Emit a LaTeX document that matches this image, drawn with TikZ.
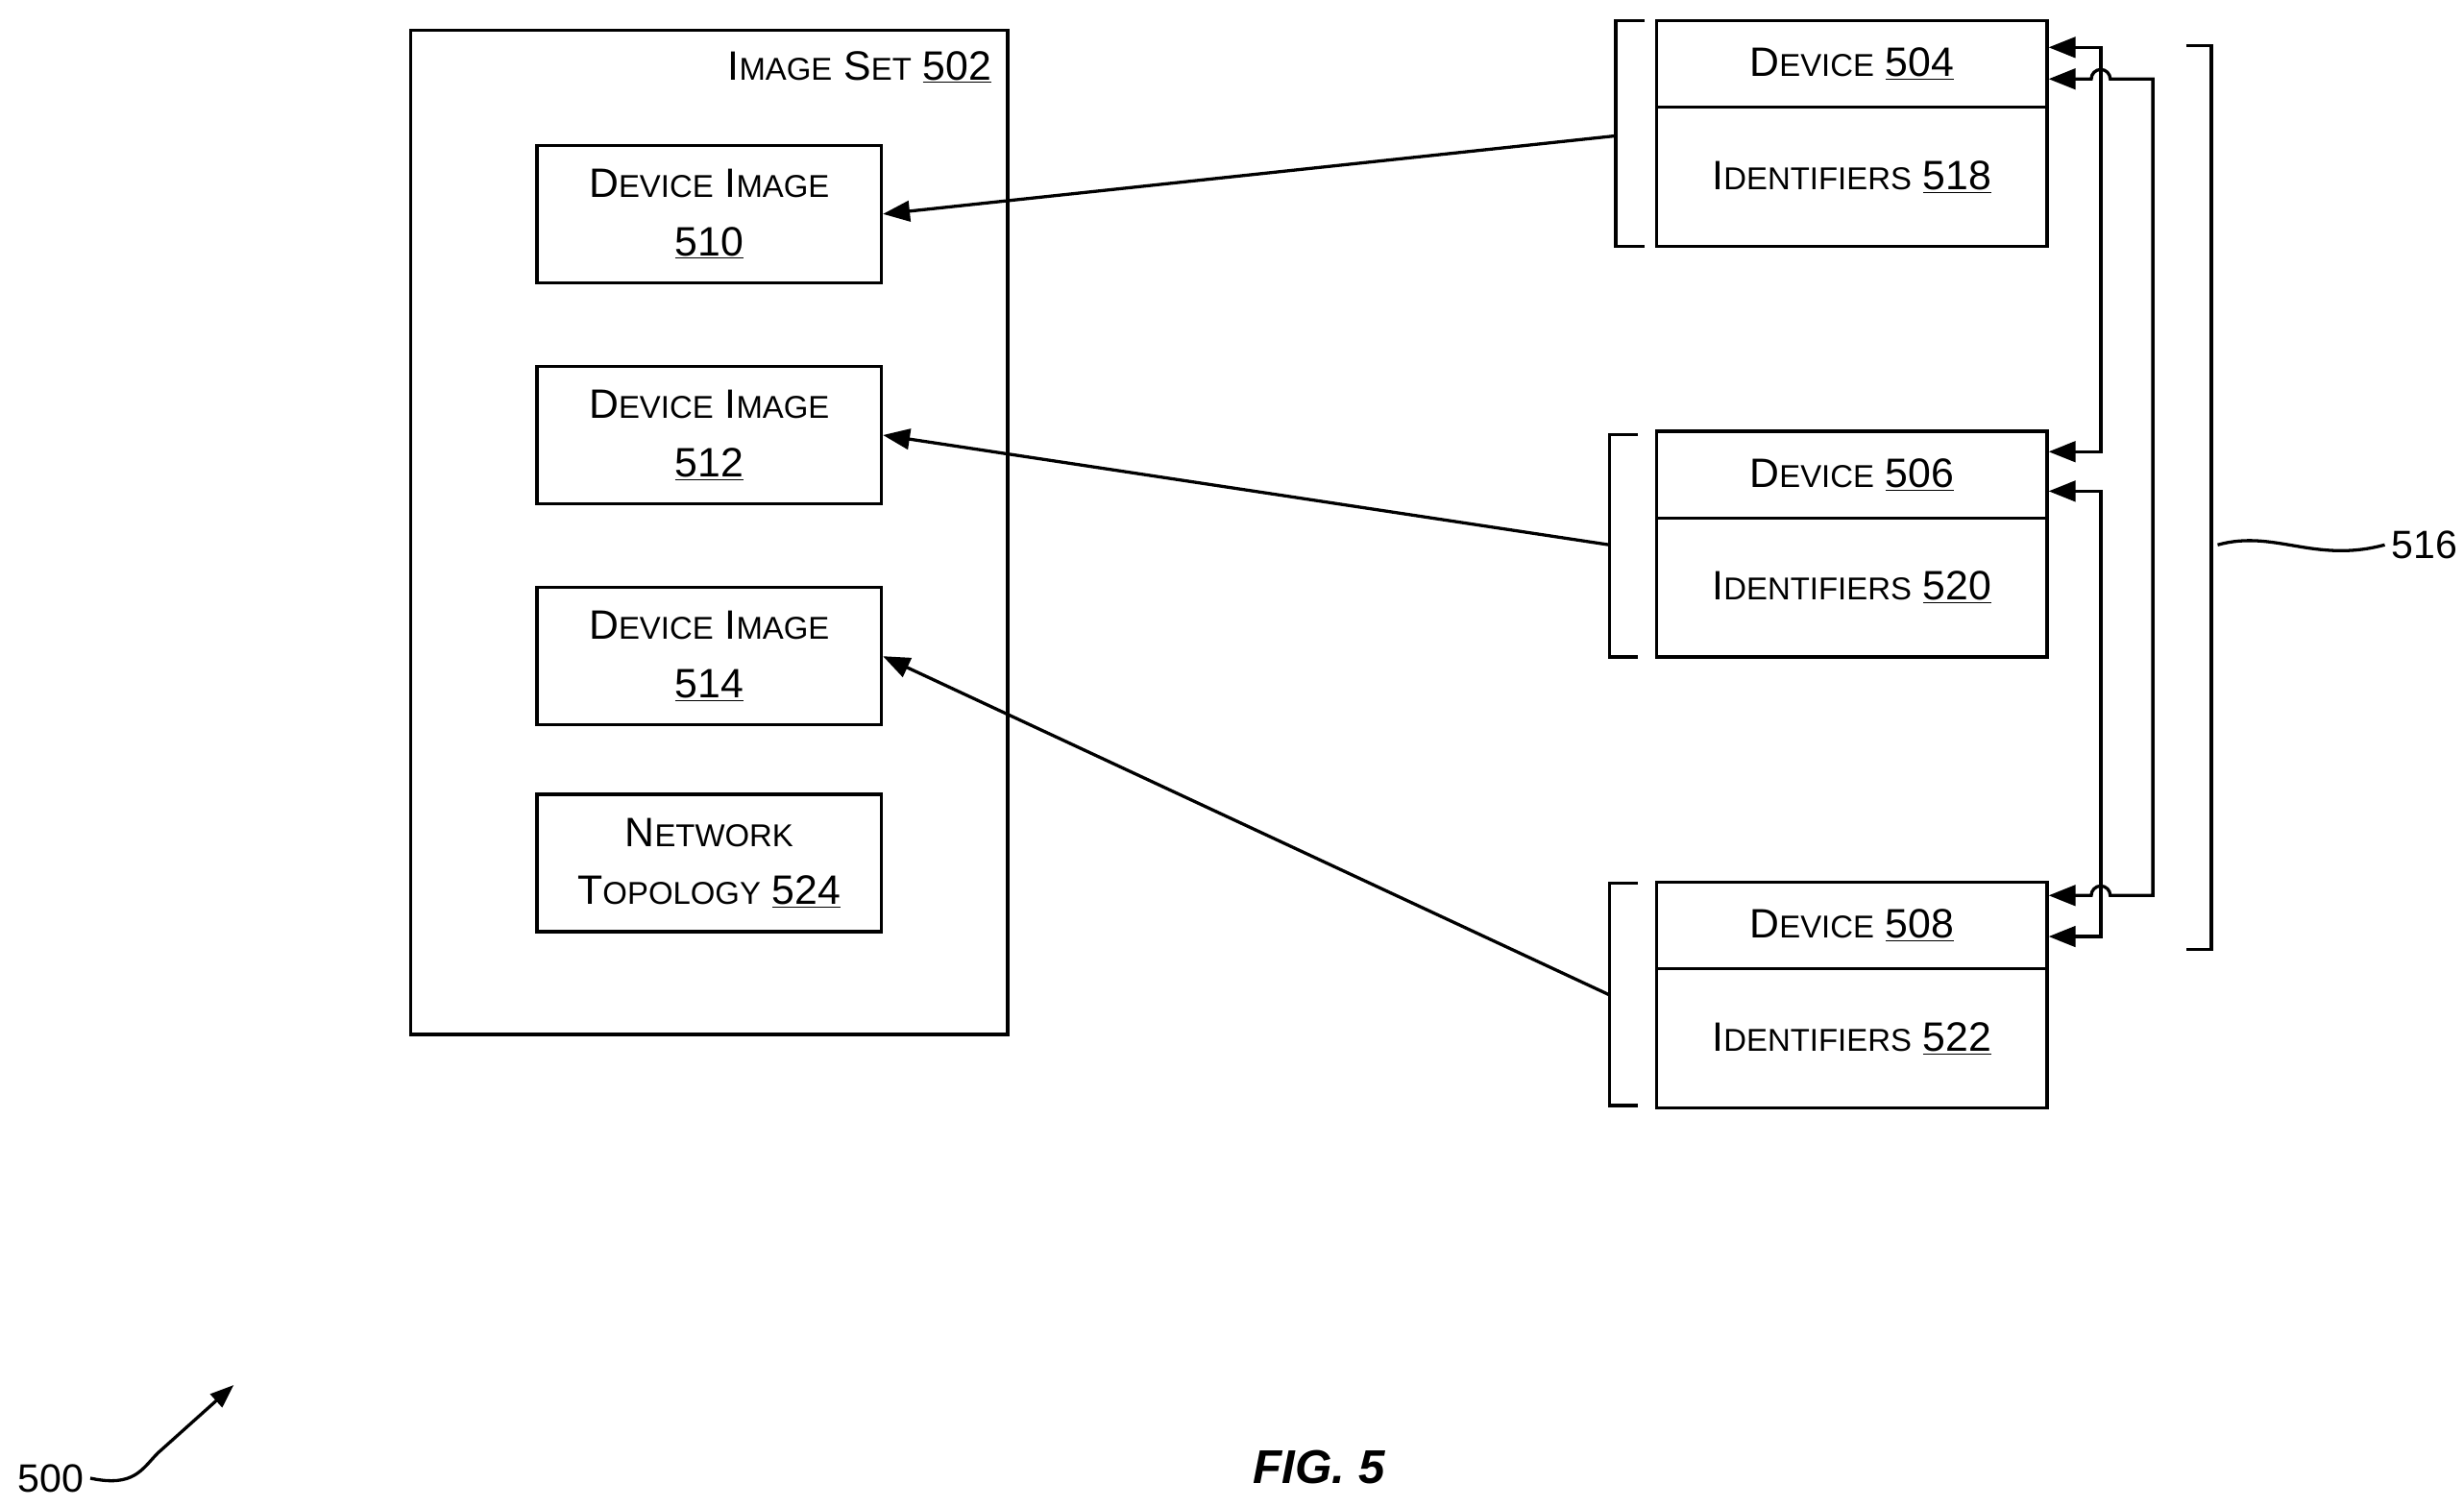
\documentclass[tikz,border=0pt]{standalone}
\usepackage{fontspec}
\setmainfont{Liberation Sans}
\usetikzlibrary{arrows.meta}
\usetikzlibrary{positioning}
\newcommand{\bigc}[1]{{\fontsize{26}{36}\selectfont #1}}
\newcommand{\smc}[1]{{\fontsize{20}{36}\selectfont #1}}
\newcommand{\refn}[1]{\bigc{\underline{#1}}}
\begin{document}
\begin{tikzpicture}[x=1pt,y=-1pt,line width=2pt]
			\tikzset{box/.style={draw,rectangle,inner sep=0pt,align=center,font=\fontsize{26}{37}\selectfont}}
			\tikzset{img/.style={box,minimum width=218pt,minimum height=87pt}}
			\tikzset{head/.style={box,minimum width=247pt,minimum height=55pt}}
			\tikzset{ids/.style={box,minimum width=247pt,minimum height=88pt}}
			\tikzset{tip/.style={Triangle[length=17pt,width=13pt]}}
			\tikzset{link/.style={-{Triangle[length=17pt,width=13pt]}}}
			\tikzset{both/.style={{Triangle[length=17pt,width=13pt]}-{Triangle[length=17pt,width=13pt]}}}
			\useasboundingbox (0,0) rectangle (1560,954);
			% Place Nodes
			\node[box,minimum width=378pt,minimum height=636pt] (set) at (449,337) {};
			\node[anchor=north east,font=\fontsize{26}{36}\selectfont] (setlbl) at (632,28) {\bigc{I}\smc{MAGE} \bigc{S}\smc{ET} \refn{502}};
			\node[img] (img510) at (449,135.5) {\bigc{D}\smc{EVICE} \bigc{I}\smc{MAGE}\\\refn{510}};
			\node[img] (img512) at (449,275.5) {\bigc{D}\smc{EVICE} \bigc{I}\smc{MAGE}\\\refn{512}};
			\node[img] (img514) at (449,415.5) {\bigc{D}\smc{EVICE} \bigc{I}\smc{MAGE}\\\refn{514}};
			\node[img] (top524) at (449,546.5) {\bigc{N}\smc{ETWORK}\\\bigc{T}\smc{OPOLOGY} \refn{524}};
			\node[head] (dev504) at (1172.5,40.5) {\bigc{D}\smc{EVICE} \refn{504}};
			\node[ids] (id518) [below=-2pt of dev504] {\bigc{I}\smc{DENTIFIERS} \refn{518}};
			\node[head] (dev506) at (1172.5,300.5) {\bigc{D}\smc{EVICE} \refn{506}};
			\node[ids] (id520) [below=-2pt of dev506] {\bigc{I}\smc{DENTIFIERS} \refn{520}};
			\node[head] (dev508) at (1172.5,586) {\bigc{D}\smc{EVICE} \refn{508}};
			\node[ids] (id522) [below=-2pt of dev508] {\bigc{I}\smc{DENTIFIERS} \refn{522}};
			% Brackets
			\draw (1041,13) -- (1023,13) -- (1023,156) -- (1041,156);
			\coordinate (b504) at (1023,86);
			\draw (1037,275) -- (1019,275) -- (1019,416) -- (1037,416);
			\coordinate (b506) at (1019,345);
			\draw (1037,559) -- (1019,559) -- (1019,700) -- (1037,700);
			\coordinate (b508) at (1019,630);
			\draw (1384,29) -- (1400,29) -- (1400,601) -- (1384,601);
			% Image links
			\draw[link] (b504) -- (img510.east);
			\draw[link] (b506) -- (img512.east);
			\draw[link] (b508) -- (img514.east);
			% Device links
			\draw[both] (dev504.east |- 0,30) -- (1330,30) -- (1330,286) -- (dev506.east |- 0,286);
			\draw[both] (dev506.east |- 0,311) -- (1330,311) -- (1330,593) -- (dev508.east |- 0,593);
			\draw[both]
				(dev504.east |- 0,50) -- (1324,50) arc[start angle=180,end angle=0,radius=6pt]
				-- (1363,50) -- (1363,567) -- (1336,567) arc[start angle=0,end angle=180,radius=6pt]
				-- (dev508.east |- 0,567);
			% Labels
			\node (n516) at (1535,345) {\fontsize{25}{30}\selectfont 516};
			\draw (1404,345) .. controls (1440,335) and (1465,357) .. (n516.west);
			\node (n500) at (32,936) {\fontsize{25}{30}\selectfont 500};
			\draw[-{Triangle[length=15pt,width=11pt]}] (n500.east) .. controls (85,942) and (90,930) .. (100,920) -- (148,877);
			\node (fig) at (835,929) {\fontsize{30}{36}\selectfont\bfseries\itshape FIG. 5};
\end{tikzpicture}
\end{document}
